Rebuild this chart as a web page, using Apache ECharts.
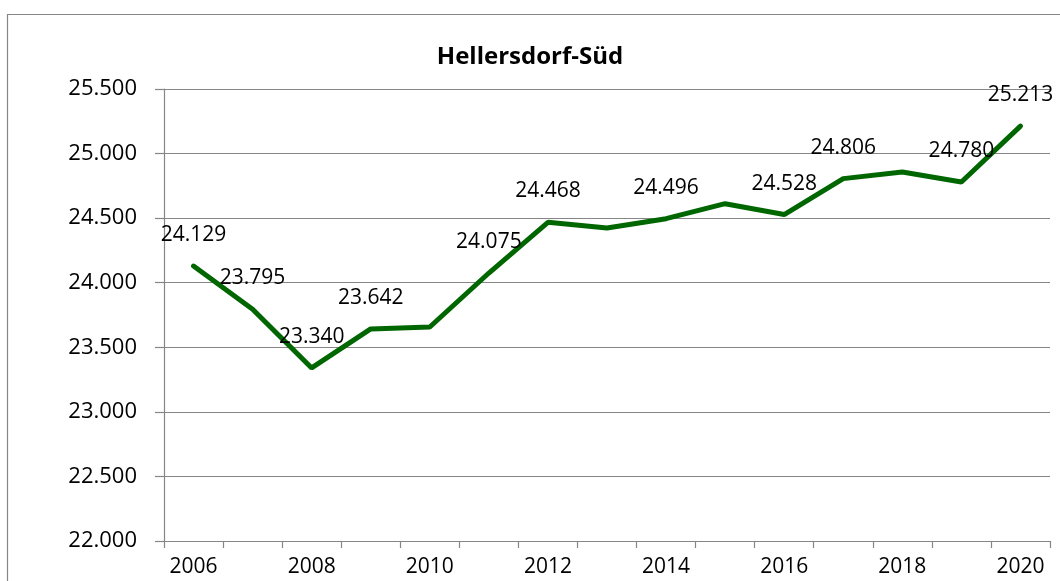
<!DOCTYPE html>
<html>
<head>
<meta charset="utf-8">
<title>Hellersdorf-Süd</title>
<script src="https://cdn.jsdelivr.net/npm/echarts@6/dist/echarts.min.js"></script>
<style>
  html, body { margin: 0; padding: 0; background: #fff; }
  #main { width: 1060px; height: 581px; }
</style>
</head>
<body>
<div id="main"></div>
<script>
// Einwohner Hellersdorf-Süd
var years = ['2006', '2007', '2008', '2009', '2010', '2011', '2012', '2013',
             '2014', '2015', '2016', '2017', '2018', '2019', '2020'];
var einwohner = [24129, 23795, 23340, 23642, 23657, 24075, 24468, 24424,
                 24496, 24612, 24528, 24806, 24857, 24780, 25213];
// years whose value is written on the chart
var labelYears = ['2006', '2007', '2008', '2009', '2011', '2012', '2014',
                  '2016', '2017', '2019', '2020'];

var fmt = function (v) { return (v / 1000).toFixed(3); };
var grey = '#868686';
var font = '"Open Sans", "Noto Sans", sans-serif';

var seriesData = [];
for (var i = 0; i < years.length; i++) {
  seriesData.push({
    value: einwohner[i],
    label: { show: labelYears.indexOf(years[i]) >= 0 }
  });
}

var chart = echarts.init(document.getElementById('main'));
var option = {
  backgroundColor: '#fff',
  animation: false,
  title: {
    text: 'Hellersdorf-Süd',
    left: 'center',
    top: 40,
    padding: [5, 0, 5, 18],
    textStyle: { fontFamily: font, fontSize: 24, fontWeight: 'bold', color: '#000' }
  },
  graphic: [{
    type: 'rect',
    shape: { x: 7.5, y: 14.5, width: 1100, height: 700 },
    style: { fill: 'none', stroke: grey, lineWidth: 1.2 },
    silent: true
  }],
  grid: { left: 164, right: 10, top: 89, bottom: 40 },
  xAxis: {
    type: 'category',
    data: years,
    boundaryGap: true,
    axisLine: { lineStyle: { color: grey, width: 1.2 } },
    axisTick: { show: true, interval: 0, length: 7, lineStyle: { color: grey, width: 1.2 } },
    axisLabel: { interval: 1, margin: 16, fontFamily: font, fontSize: 21, color: '#000' },
    splitLine: { show: false }
  },
  yAxis: {
    type: 'value',
    min: 22000,
    max: 25500,
    interval: 500,
    axisLine: { show: true, lineStyle: { color: grey, width: 1.2 } },
    axisTick: { show: true, length: 9, lineStyle: { color: grey, width: 1.2 } },
    axisLabel: { margin: 27, fontFamily: font, fontSize: 22, color: '#000', formatter: fmt },
    splitLine: { show: true, lineStyle: { color: grey, width: 1.2 } }
  },
  series: [{
    type: 'line',
    data: seriesData,
    symbol: 'circle',
    symbolSize: 1,
    showSymbol: true,
    itemStyle: { color: 'rgba(0,0,0,0)' },
    lineStyle: { color: '#006600', width: 5, cap: 'round' },
    label: {
      position: 'top',
      distance: 20,
      fontFamily: font,
      fontSize: 21,
      color: '#000',
      formatter: function (p) { return fmt(p.value); }
    },
    labelLayout: { hideOverlap: false }
  }]
};
chart.setOption(option);
</script>
</body>
</html>
